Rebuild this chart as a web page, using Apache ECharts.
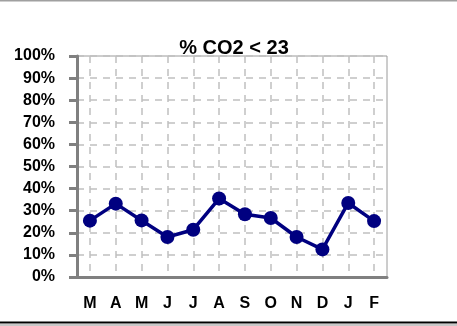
<!DOCTYPE html>
<html><head><meta charset="utf-8">
<script src="https://cdn.jsdelivr.net/npm/echarts@6/dist/echarts.min.js"></script>
<style>html,body{margin:0;padding:0;background:#fff}#c{width:457px;height:326px}</style>
</head><body><div id="c"></div>
<script>
const categories = ['M','A','M','J','J','A','S','O','N','D','J','F'];
const values = [25.5, 33.2, 25.6, 18.1, 21.4, 35.5, 28.4, 26.7, 18.1, 12.5, 33.5, 25.3];
const yTicks = [0,10,20,30,40,50,60,70,80,90,100];
const title = '% CO2 < 23';

const chart = echarts.init(document.getElementById('c'), null, {renderer:'canvas'});
chart.setOption({
  animation:false,
  backgroundColor:'#fff',
  title:{text:title, left:229, top:33, textAlign:'center',
    textStyle:{fontFamily:'Liberation Sans, Arial', fontWeight:'bold', fontSize:20, color:'#000'}},
  grid:{left:77, right:70, top:56, bottom:49, show:true, borderColor:'#9a9a9a', borderWidth:1, containLabel:false},
  xAxis:{type:'category', data:categories, boundaryGap:true,
    axisLine:{lineStyle:{color:'#808080', width:3}},
    axisTick:{alignWithLabel:true, length:8, lineStyle:{color:'#808080', width:3}},
    axisLabel:{margin:19, fontFamily:'Liberation Sans, Arial', fontWeight:'bold', fontSize:16, color:'#000'},
    splitLine:{show:true, alignWithLabel:true, interval:0, lineStyle:{color:'#c0c0c0', type:[7,6], width:1.5}}
  },
  yAxis:{type:'value', min:0, max:100, interval:10,
    axisLine:{show:true, lineStyle:{color:'#808080', width:3}},
    axisTick:{show:true, length:8, lineStyle:{color:'#808080', width:3}},
    axisLabel:{margin:22, formatter:v=>yTicks.includes(v)?v+'%':'', fontFamily:'Liberation Sans, Arial', fontWeight:'bold', fontSize:16, color:'#000'},
    splitLine:{show:true, lineStyle:{color:'#c0c0c0', type:[7,6], width:1.5}}
  },
  series:[{type:'line', data:values, symbol:'circle', symbolSize:14,
    lineStyle:{color:'#000080', width:3.5}, itemStyle:{color:'#000080'}}],
  graphic:[
    {type:'line', shape:{x1:0,y1:0.5,x2:457,y2:0.5}, style:{stroke:'#a0a0a0', lineWidth:2}},
    {type:'line', shape:{x1:0,y1:322.5,x2:457,y2:322.5}, style:{stroke:'#000', lineWidth:2}},
    {type:'rect', shape:{x:0,y:324,width:457,height:2}, style:{fill:'#c8c8c8'}}
  ]
});
</script></body></html>
